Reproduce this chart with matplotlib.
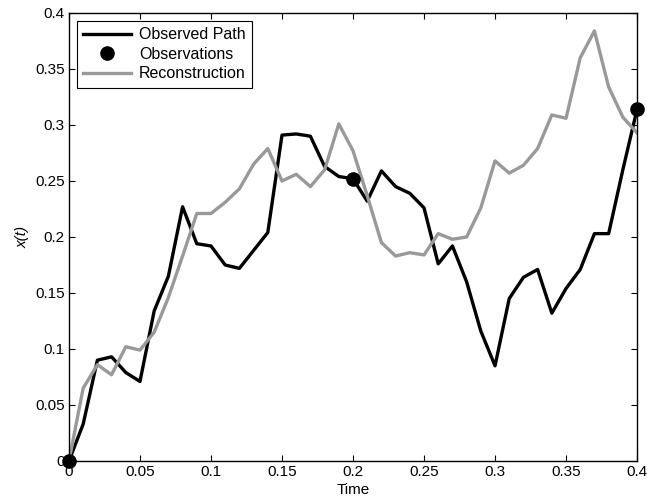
import numpy as np
import matplotlib.pyplot as plt

plt.rcParams['font.family'] = ['Liberation Sans', 'DejaVu Sans']

# time grid of the path (step 0.01)
time = [round(0.01 * i, 2) for i in range(41)]

observed = [0.000, 0.033, 0.090, 0.093, 0.079, 0.071, 0.134, 0.165, 0.227, 0.194,
            0.192, 0.175, 0.172, 0.188, 0.204, 0.291, 0.292, 0.290, 0.263, 0.254,
            0.252, 0.232, 0.259, 0.245, 0.239, 0.226, 0.176, 0.192, 0.160, 0.116,
            0.085, 0.145, 0.164, 0.171, 0.132, 0.154, 0.171, 0.203, 0.203, 0.260,
            0.314]

reconstruction = [0.000, 0.065, 0.086, 0.077, 0.102, 0.099, 0.115, 0.146, 0.183, 0.221,
                  0.221, 0.231, 0.243, 0.265, 0.279, 0.250, 0.256, 0.245, 0.260, 0.301,
                  0.277, 0.237, 0.195, 0.183, 0.186, 0.184, 0.203, 0.198, 0.200, 0.226,
                  0.268, 0.257, 0.264, 0.279, 0.309, 0.306, 0.360, 0.384, 0.334, 0.307,
                  0.293]

obs_t = [0.0, 0.2, 0.4]
obs_x = [0.0, 0.252, 0.314]

fig = plt.figure(figsize=(6.47, 5.0), dpi=100)
ax = fig.add_axes([0.1066, 0.078, 0.878, 0.896])

ax.plot(time, observed, color='black', lw=2.4, label='Observed Path')
ax.plot(obs_t, obs_x, 'o', color='black', ms=9.5, clip_on=False, zorder=5,
        label='Observations')
ax.plot(time, reconstruction, color=(0.6, 0.6, 0.6), lw=2.4, label='Reconstruction')

ax.set_xlim(0, 0.4)
ax.set_ylim(0, 0.4)
ax.set_xticks(np.arange(0, 0.41, 0.05))
ax.set_yticks(np.arange(0, 0.41, 0.05))
ax.set_xticklabels(['0', '0.05', '0.1', '0.15', '0.2', '0.25', '0.3', '0.35', '0.4'])
ax.set_yticklabels(['0', '0.05', '0.1', '0.15', '0.2', '0.25', '0.3', '0.35', '0.4'])
ax.tick_params(direction='in', top=True, right=True, labelsize=11, length=4, pad=3)
for s in ax.spines.values():
    s.set_linewidth(1.0)

ax.set_xlabel('Time', fontsize=11, labelpad=3)
ax.set_ylabel('x(t)', fontsize=11, style='italic', labelpad=4)

leg = ax.legend(loc='upper left', fontsize=11.5, fancybox=False, framealpha=1,
                edgecolor='black', handlelength=3.0, borderaxespad=0.5,
                labelspacing=0.28, borderpad=0.4, handletextpad=0.5)
leg.get_frame().set_linewidth(0.8)

plt.savefig('out.png', dpi=100)
